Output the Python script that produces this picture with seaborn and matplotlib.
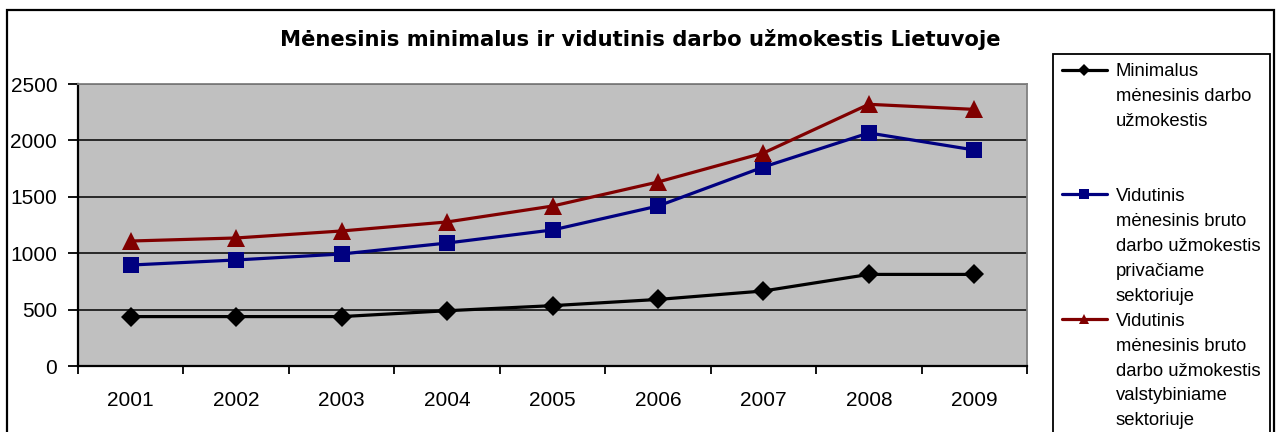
import matplotlib
matplotlib.use("Agg")
import matplotlib.pyplot as plt
from matplotlib.lines import Line2D
from matplotlib.patches import Rectangle
import numpy as np
import pandas as pd
import seaborn as sns

# ---- data ----
years = [2001, 2002, 2003, 2004, 2005, 2006, 2007, 2008, 2009]
minimal = [438, 438, 438, 490, 535, 590, 665, 812, 812]
private = [895, 940, 993, 1090, 1206, 1418, 1764, 2066, 1915]
public = [1108, 1135, 1197, 1277, 1418, 1631, 1888, 2320, 2275]
yticks = [0, 500, 1000, 1500, 2000, 2500]
title = "Mėnesinis minimalus ir vidutinis darbo užmokestis Lietuvoje"
legend_labels = [
    ["Minimalus", "mėnesinis darbo", "užmokestis", "", ""],
    ["Vidutinis", "mėnesinis bruto", "darbo užmokestis", "privačiame", "sektoriuje"],
    ["Vidutinis", "mėnesinis bruto", "darbo užmokestis", "valstybiniame", "sektoriuje"],
]

sns.set_style("white")
plt.rcParams["font.family"] = ["Liberation Sans", "DejaVu Sans"]
plt.rcParams["text.color"] = "black"
plt.rcParams["xtick.color"] = "black"
plt.rcParams["ytick.color"] = "black"
plt.rcParams["xtick.labelcolor"] = "black"
plt.rcParams["ytick.labelcolor"] = "black"

W, H = 1277, 432
fig = plt.figure(figsize=(W / 100, H / 100), dpi=100)
ax = fig.add_axes([78 / W, 1 - 366 / H, (1027 - 78) / W, (366 - 84) / H])
ax.set_facecolor("#C0C0C0")

series = [
    (minimal, "#000000", "D", 10),
    (private, "#000080", "s", 11.5),
    (public, "#800000", "^", 12.5),
]
for vals, color, marker, ms in series:
    df = pd.DataFrame({"year": years, "value": vals})
    sns.lineplot(data=df, x="year", y="value", ax=ax, color=color, marker=marker,
                 markersize=ms, markeredgecolor=color, markeredgewidth=0,
                 linewidth=2.3, legend=False)

ax.set_xlim(years[0] - 0.5, years[-1] + 0.5)
ax.set_ylim(yticks[0], yticks[-1])
ax.set_yticks(yticks)
ax.set_xticks(years)
ax.set_xticks(np.arange(years[0] - 0.5, years[-1] + 1, 1), minor=True)
ax.set_xlabel("")
ax.set_ylabel("")
ax.yaxis.grid(True, color="black", linewidth=1.1)
ax.xaxis.grid(False)
ax.set_axisbelow(True)

ax.tick_params(axis="x", which="major", bottom=True, length=0, pad=18, labelsize=15,
               labelcolor="black")
ax.tick_params(axis="x", which="minor", bottom=True, length=6, width=1.3,
               color="black", direction="out")
ax.tick_params(axis="y", left=True, length=7, width=1.3, color="black",
               direction="out", pad=8, labelsize=15, labelcolor="black")

for side in ["left", "bottom"]:
    ax.spines[side].set_color("black")
    ax.spines[side].set_linewidth(1.6)
for side in ["top", "right"]:
    ax.spines[side].set_color("#808080")
    ax.spines[side].set_linewidth(1.3)

# title
fig.text(640 / W, 1 - 40 / H, title, ha="center", va="center", color="black",
         fontsize=15.2, fontweight="bold", family=["DejaVu Sans"])

# legend
handles, labels = [], []
for (vals, color, marker, ms), lines in zip(series, legend_labels):
    for i, line in enumerate(lines):
        if i == 0:
            handles.append(Line2D([], [], color=color, marker=marker, markersize=ms * 0.6,
                                  markeredgewidth=0, linewidth=2.3))
        else:
            handles.append(Line2D([], [], linestyle="none"))
        labels.append(line)
leg = fig.legend(handles, labels, loc="upper left",
                 bbox_to_anchor=(1053 / W, 1 - 54 / H), frameon=True,
                 fancybox=False, edgecolor="black", framealpha=1,
                 fontsize=13.3, labelspacing=0.43, handlelength=2.4,
                 handletextpad=0.5, borderpad=0.5, borderaxespad=0,
                 labelcolor="black")
leg.get_frame().set_linewidth(1.3)

# outer chart border
fig.patches.append(Rectangle((7 / W, -0.1), (1274 - 7) / W, 1.1 - 10 / H,
                             transform=fig.transFigure, fill=False,
                             edgecolor="black", linewidth=1.6))

fig.savefig("out.png", dpi=100)
